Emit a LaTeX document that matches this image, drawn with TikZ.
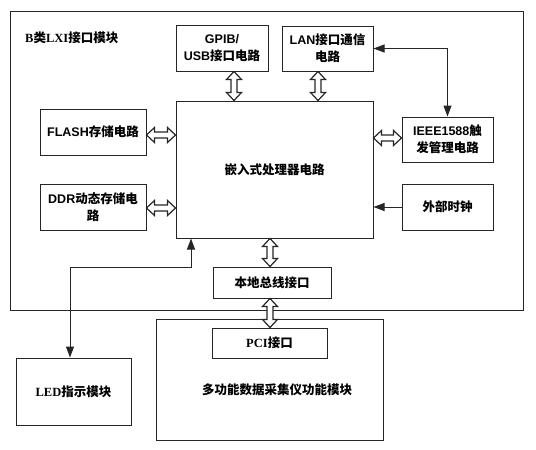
\documentclass[tikz,border=0pt]{standalone}
\usepackage{fontspec}
\setmainfont{Liberation Sans}
\newfontfamily\cjk{Noto Sans CJK SC}
\newfontfamily\serifL{Liberation Serif}
\usetikzlibrary{calc,arrows.meta}
\newcommand\zh[1]{{\cjk #1}}
\newcommand\hwA{7.5pt}
\newcommand\swA{3pt}
\newcommand\hlA{8pt}
% vertical hollow double arrow: x, upper anchor, lower anchor
\newcommand\vdarr[3]{%
  \draw[dblarr] let \p1=(#1,0 |- #2), \p2=(#1,0 |- #3) in
   (\x1,\y1) -- (\x1+\hwA,\y1-\hlA) -- (\x1+\swA,\y1-\hlA) -- (\x1+\swA,\y2+\hlA)
   -- (\x1+\hwA,\y2+\hlA) -- (\x1,\y2) -- (\x1-\hwA,\y2+\hlA) -- (\x1-\swA,\y2+\hlA)
   -- (\x1-\swA,\y1-\hlA) -- (\x1-\hwA,\y1-\hlA) -- cycle;}
% horizontal hollow double arrow: y, left anchor, right anchor
\newcommand\hdarr[3]{%
  \draw[dblarr] let \p1=(#2 |- 0,#1), \p2=(#3 |- 0,#1) in
   (\x1,\y1) -- (\x1+\hlA,\y1+\hwA) -- (\x1+\hlA,\y1+\swA) -- (\x2-\hlA,\y1+\swA)
   -- (\x2-\hlA,\y1+\hwA) -- (\x2,\y1) -- (\x2-\hlA,\y1-\hwA) -- (\x2-\hlA,\y1-\swA)
   -- (\x1+\hlA,\y1-\swA) -- (\x1+\hlA,\y1-\hwA) -- cycle;}
\begin{document}
\begin{tikzpicture}[x=1pt,y=-1pt,
  box/.style={draw=black!85, line width=1pt, inner sep=0pt, align=center,
    font=\fontsize{12.5}{17}\selectfont\bfseries},
  txt/.style={inner sep=0pt, align=center, font=\fontsize{12.5}{17}\selectfont\bfseries},
  dblarr/.style={draw=black!85, line width=1.2pt, fill=white, line join=miter},
  sarr/.style={draw=black!85, line width=1pt},
  tp/.style={}]
\useasboundingbox (0,0) rectangle (536,450);
% outer module
\node[box, minimum width=513, minimum height=299] (outer) at (266.5,160.5) {};
\node[txt, anchor=west] (title) at (25,38) {\serifL B\zh{类}LXI\zh{接口模块}};
% boxes
\node[box, minimum width=92, minimum height=46] (gpib) at (222,48) {GPIB/\\USB\zh{接口电路}};
\node[box, minimum width=91, minimum height=45] (lan) at (327.5,48.5) {LAN\zh{接口通信}\\\zh{电路}};
\node[box, minimum width=197, minimum height=137] (proc) at (274.5,169.5) {\zh{嵌入式处理器电路}};
\node[box, minimum width=106, minimum height=46] (flash) at (93,132) {FLASH\zh{存储电路}};
\node[box, minimum width=106, minimum height=46] (ddr) at (93,207) {DDR\zh{动态存储电}\\\zh{路}};
\node[box, minimum width=91, minimum height=45] (ieee) at (447.5,139.5) {IEEE1588\zh{触}\\\zh{发管理电路}};
\node[box, minimum width=91, minimum height=46] (clk) at (447.5,207) {\zh{外部时钟}};
\node[box, minimum width=118, minimum height=31] (bus) at (272,282.5) {\zh{本地总线接口}};
\node[box, minimum width=227, minimum height=121] (daq) at (269.5,379.5) {};
\node[box, minimum width=115, minimum height=30] (pci) at (269.5,343) {\serifL PCI\zh{接口}};
\node[txt] (daqtxt) at (277,390) {\zh{多功能数据采集仪功能模块}};
\node[box, minimum width=115, minimum height=67] (led) at (73.5,391.5) {\serifL LED\zh{指示模块}};
% hollow double arrows
\vdarr{234}{gpib.south}{proc.north}
\vdarr{318}{lan.south}{proc.north}
\hdarr{135}{flash.east}{proc.west}
\hdarr{208}{ddr.east}{proc.west}
\hdarr{138}{proc.east}{ieee.west}
\vdarr{270}{proc.south}{bus.north}
\vdarr{270}{bus.south}{pci.north}
% single arrows
\draw[sarr, {Triangle[length=11pt,width=8pt]}-{Triangle[length=11pt,width=8pt]}] (lan.east) -| (ieee.north);
\draw[sarr, -{Triangle[length=11pt,width=8pt]}] (clk.west) -- (proc.east |- clk.west);
\coordinate (ledcorner) at (70,267);
\draw[sarr, {Triangle[length=11pt,width=8pt]}-{Triangle[length=11pt,width=8pt]}]
  (191,0 |- proc.south) |- (ledcorner) -- (70,0 |- led.north);
\end{tikzpicture}
\end{document}
